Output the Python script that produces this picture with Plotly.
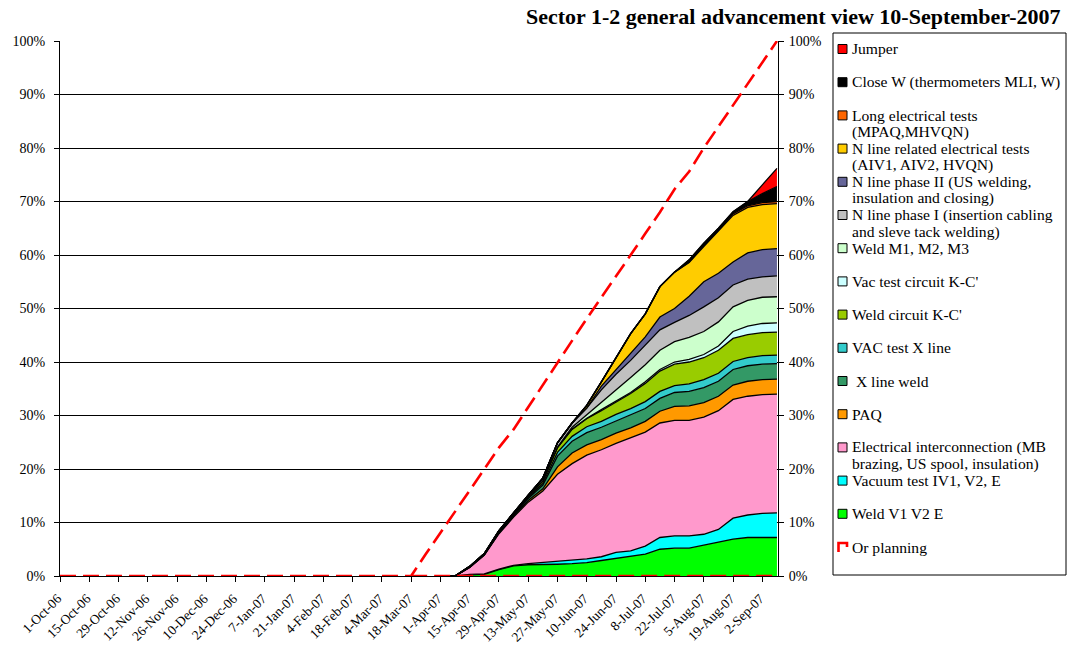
import plotly.graph_objects as go
import pandas as pd

# ---------------- data ----------------
dates = ["2007-04-01", "2007-04-08", "2007-04-15", "2007-04-22", "2007-04-29", "2007-05-06",
         "2007-05-13", "2007-05-20", "2007-05-27", "2007-06-03", "2007-06-10", "2007-06-17",
         "2007-06-24", "2007-07-01", "2007-07-08", "2007-07-15", "2007-07-22", "2007-07-29",
         "2007-08-05", "2007-08-12", "2007-08-19", "2007-08-26", "2007-09-02", "2007-09-09"]

weld_v1v2e = [0, 0, 0.2, 0.3, 1.2, 1.9, 2.1, 2.1, 2.2, 2.3, 2.5, 2.9, 3.3, 3.6, 4.1, 5.0, 5.2, 5.2, 5.8, 6.3, 6.9, 7.2, 7.2, 7.2]
vacuum_test = [0, 0, 0.1, 0.1, 0.1, 0.1, 0.2, 0.4, 0.5, 0.6, 0.7, 0.7, 1.1, 1.1, 1.5, 2.2, 2.3, 2.3, 2.0, 2.4, 3.9, 4.2, 4.5, 4.6]
elec_interconnection = [0, 0, 1.3, 3.5, 6.6, 9.0, 11.5, 13.4, 16.3, 18.1, 19.4, 20.0, 20.4, 21.1, 21.3, 21.4, 21.6, 21.6, 21.9, 22.2, 22.2, 22.2, 22.2, 22.2]
paq = [0, 0, 0, 0, 0.1, 0.2, 0.3, 0.4, 1.4, 2.0, 1.9, 1.9, 1.9, 1.9, 2.0, 2.2, 2.6, 2.7, 2.7, 2.7, 2.7, 2.8, 2.8, 2.8]
x_line_weld = [0, 0, 0.1, 0.1, 0.1, 0.2, 0.4, 0.7, 2.0, 2.2, 2.3, 2.3, 2.3, 2.4, 2.4, 2.4, 2.6, 2.7, 2.8, 2.8, 2.9, 2.9, 2.9, 2.9]
vac_test_x_line = [0, 0, 0, 0, 0.1, 0.1, 0.2, 0.3, 0.7, 0.9, 1.1, 1.1, 1.2, 1.2, 1.3, 1.3, 1.3, 1.4, 1.5, 1.5, 1.5, 1.5, 1.6, 1.6]
weld_circuit_kc = [0, 0, 0, 0.1, 0.1, 0.2, 0.2, 0.5, 0.9, 1.3, 1.5, 2.0, 2.3, 2.8, 3.4, 3.8, 4.0, 4.1, 4.1, 4.3, 4.3, 4.3, 4.3, 4.3]
vac_test_kc = [0, 0, 0, 0, 0, 0, 0, 0, 0, 0.1, 0.1, 0.2, 0.2, 0.2, 0.3, 0.3, 0.4, 0.5, 0.6, 0.8, 1.3, 1.6, 1.7, 1.7]
weld_m123 = [0, 0, 0, 0, 0, 0, 0, 0, 0.1, 0.3, 0.6, 1.3, 2.0, 2.8, 3.2, 3.6, 3.8, 4.1, 4.3, 4.5, 4.6, 4.8, 4.9, 4.9]
n_line_phase1 = [0, 0, 0.1, 0.1, 0.2, 0.2, 0.2, 0.5, 0.8, 0.8, 1.3, 2.4, 3.0, 3.2, 3.6, 3.8, 3.6, 4.1, 4.6, 4.5, 4.1, 4.0, 3.8, 3.9]
n_line_phase2 = [0, 0, 0, 0, 0, 0, 0, 0, 0, 0, 0, 0.7, 0.9, 1.3, 1.6, 2.4, 2.6, 3.6, 4.7, 4.6, 4.3, 4.9, 5.1, 5.1]
n_line_el_tests = [0, 0, 0, 0, 0, 0, 0, 0, 0, 0, 0.5, 0.8, 2.3, 3.7, 4.3, 5.7, 6.8, 6.3, 6.6, 7.8, 8.7, 8.5, 8.4, 8.4]
long_el_tests = [0, 0, 0, 0, 0, 0, 0, 0, 0, 0, 0, 0, 0, 0, 0, 0, 0, 0.1, 0.2, 0.2, 0.3, 0.3, 0.4, 0.4]
close_w = [0, 0, 0, 0, 0, 0, 0, 0, 0, 0, 0, 0, 0, 0, 0, 0, 0, 0.4, 0.4, 0.4, 0.4, 0.8, 1.7, 2.8]
jumper = [0, 0, 0, 0, 0, 0, 0, 0, 0, 0, 0, 0, 0, 0, 0, 0, 0, 0, 0, 0, 0, 0, 1.6, 3.4]

plan_dates = ["2006-10-01", "2007-03-18", "2007-03-25", "2007-04-01", "2007-04-08", "2007-04-15",
              "2007-04-22", "2007-04-29", "2007-05-06", "2007-05-13", "2007-05-20", "2007-05-27",
              "2007-06-03", "2007-06-10", "2007-06-17", "2007-06-24", "2007-07-01", "2007-07-08",
              "2007-07-15", "2007-07-22", "2007-07-29", "2007-08-05", "2007-08-12", "2007-08-19",
              "2007-08-26", "2007-09-02", "2007-09-09"]
plan_values = [0, 0, 4.1, 8.0, 12.1, 16.0, 20.0, 24.0, 27.4, 31.6, 35.6, 39.9, 44.0, 48.1, 52.0,
               56.1, 60.0, 64.0, 68.0, 72.3, 75.6, 80.0, 84.0, 88.1, 92.0, 96.0, 100]
baseline_dates = ["2007-03-18", "2007-09-09"]
baseline_values = [0, 0]

tick_dates = pd.date_range("2006-10-01", "2007-09-02", freq="14D")
tick_labels = [f"{d.day}-{d.strftime('%b')}-{d.strftime('%y')}" for d in tick_dates]
y_ticks = [0, 10, 20, 30, 40, 50, 60, 70, 80, 90, 100]
y_tick_labels = [f"{v}%" for v in y_ticks]

series = [
    ("Weld V1 V2 E", weld_v1v2e, "#00FF00"),
    ("Vacuum test IV1, V2, E", vacuum_test, "#00FFFF"),
    ("Electrical interconnection (MB|brazing, US spool, insulation)", elec_interconnection, "#FF99CC"),
    ("PAQ", paq, "#FF9900"),
    (" X line weld", x_line_weld, "#339966"),
    ("VAC test X line", vac_test_x_line, "#33CCCC"),
    ("Weld circuit K-C'", weld_circuit_kc, "#99CC00"),
    ("Vac test circuit K-C'", vac_test_kc, "#CCFFFF"),
    ("Weld M1, M2, M3", weld_m123, "#CCFFCC"),
    ("N line phase I (insertion cabling|and sleve tack welding)", n_line_phase1, "#C0C0C0"),
    ("N line phase II (US welding,|insulation and closing)", n_line_phase2, "#666699"),
    ("N line related electrical tests|(AIV1, AIV2, HVQN)", n_line_el_tests, "#FFCC00"),
    ("Long electrical tests|(MPAQ,MHVQN)", long_el_tests, "#FF6600"),
    ("Close W (thermometers MLI, W)", close_w, "#000000"),
    ("Jumper", jumper, "#FF0000"),
]

FONT = "Liberation Serif"

# ---------------- layout geometry ----------------
L, R, T, B = 60, 778, 41, 576
W, H = R - L, B - T


def px(x):
    return (x - L) / W


def py(y):
    return (B - y) / H


fig = go.Figure()
for name, vals, col in series:
    fig.add_trace(go.Scatter(
        x=dates, y=vals, name=name.replace("|", " "), stackgroup="one", mode="lines",
        line=dict(color="#000000", width=1.3), fillcolor=col, showlegend=False,
        hoverinfo="x+y+name"))

fig.add_trace(go.Scatter(x=plan_dates, y=plan_values, mode="lines", name="Or planning",
                         line=dict(color="#FF0000", width=2.6, dash="16px,7px"), showlegend=False))
fig.add_trace(go.Scatter(x=baseline_dates, y=baseline_values, mode="lines", yaxis="y2",
                         line=dict(color="#FF0000", width=2.6, dash="16px,7px"), showlegend=False,
                         hoverinfo="skip"))

fig.update_layout(
    width=1069, height=647,
    margin=dict(l=L, r=1069 - R, t=T, b=647 - B, autoexpand=False),
    paper_bgcolor="white", plot_bgcolor="white",
    font=dict(family=FONT, size=14, color="black"),
    xaxis=dict(type="date", range=["2006-10-01", "2007-09-09 12:00"],
               tickvals=list(tick_dates), ticktext=[t + "\u00a0" for t in tick_labels],
               tickangle=-45, ticks="outside", ticklen=5, tickcolor="black", showline=True,
               linecolor="black", linewidth=1, showgrid=False, zeroline=False,
               automargin=False, ticklabelstandoff=1, tickfont=dict(family=FONT, size=13.5)),
    yaxis=dict(range=[0, 100], tickvals=y_ticks, ticktext=y_tick_labels, ticks="outside",
               ticklen=5, tickcolor="black", showline=True, linecolor="black",
               linewidth=1, showgrid=True, gridcolor="black", gridwidth=1, zeroline=False,
               automargin=False, ticklabelstandoff=6, tickfont=dict(family=FONT, size=14)),
    yaxis2=dict(range=[0, 100], tickvals=y_ticks, ticktext=y_tick_labels, ticks="outside",
                ticklen=5, tickcolor="black", showline=True, linecolor="black",
                linewidth=1, showgrid=False, zeroline=False, overlaying="y", side="right",
                automargin=False, ticklabelstandoff=2, tickfont=dict(family=FONT, size=14)),
    showlegend=False,
)

# title
annotations = [dict(text="<b>Sector 1-2 general advancement view 10-September-2007</b>",
                    xref="paper", yref="paper", x=px(1063), y=py(17), xanchor="right",
                    yanchor="middle", showarrow=False, font=dict(family=FONT, size=22))]
shapes = [dict(type="rect", xref="paper", yref="paper", x0=px(833), x1=px(1066),
               y0=py(33), y1=py(575), line=dict(color="black", width=1), fillcolor="white",
               layer="below")]

# manual legend (Excel-like, uniform slots)
legend_entries = [(s[0], s[2]) for s in reversed(series)]
slot_y0, slot_dy, line_dy = 49, 33.2, 16.5
for i, (name, col) in enumerate(legend_entries):
    yc = slot_y0 + i * slot_dy
    shapes.append(dict(type="rect", xref="paper", yref="paper", x0=px(838), x1=px(847),
                       y0=py(yc - 4.5), y1=py(yc + 4.5), fillcolor=col,
                       line=dict(color="black", width=1)))
    for j, part in enumerate(name.split("|")):
        annotations.append(dict(text=part, xref="paper", yref="paper", x=px(850),
                                y=py(yc + j * line_dy), xanchor="left", yanchor="middle",
                                showarrow=False, font=dict(family=FONT, size=15.6)))
yc = slot_y0 + len(legend_entries) * slot_dy
shapes.append(dict(type="path", xref="paper", yref="paper",
                   path=f"M {px(838.5)},{py(yc + 5)} L {px(838.5)},{py(yc - 4)} L {px(847)},{py(yc - 4)} L {px(847)},{py(yc)}",
                   line=dict(color="#FF0000", width=2.6)))
annotations.append(dict(text="Or planning", xref="paper", yref="paper", x=px(850), y=py(yc),
                        xanchor="left", yanchor="middle", showarrow=False,
                        font=dict(family=FONT, size=15.6)))

fig.update_layout(annotations=annotations, shapes=shapes)
fig.write_html("out.html", config={"displayModeBar": False},
               post_script="document.body.style.margin='0';document.body.style.padding='0';")
